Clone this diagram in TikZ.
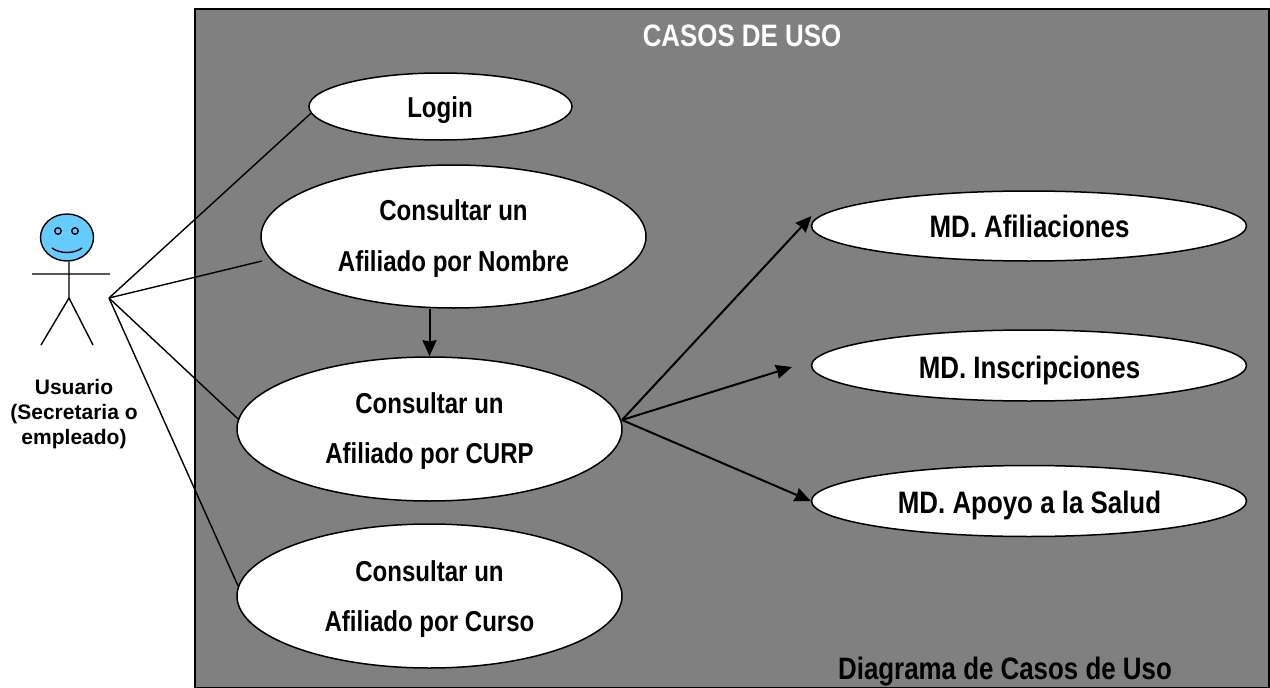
\documentclass[tikz,border=0pt]{standalone}
\usepackage{fontspec}
\setmainfont{Liberation Sans}
\newfontfamily\nbf[FakeStretch=0.835]{Liberation Sans}
\usetikzlibrary{shapes.geometric,arrows.meta}
\definecolor{pgray}{RGB}{128,128,128}
\definecolor{headblue}{RGB}{102,204,255}
\tikzset{
 x=1pt,y=-1pt,
 uc/.style={ellipse,draw=black,line width=1.5pt,fill=white,inner sep=0pt},
 lbl/.style={font=\nbf\bfseries\fontsize{28.8}{28.8}\selectfont,inner sep=0pt,anchor=base},
 big/.style={font=\nbf\bfseries\fontsize{31}{31}\selectfont,inner sep=0pt,anchor=base},
 assoc/.style={draw=black,line width=1.4pt},
 dep/.style={draw=black,line width=2pt,-{Stealth[length=16pt,width=14pt,inset=1pt]}},
 body/.style={draw=black,line width=1.4pt},
}
\begin{document}
\begin{tikzpicture}
\useasboundingbox (0,0) rectangle (1270,688);
\node[draw=black,line width=1.5pt,fill=pgray,minimum width=1074pt,minimum height=678.5pt,inner sep=0pt,anchor=north west] (frame) at (194,8) {};
\node[big,text=white] (title) at (742,46) {CASOS DE USO};
\node[big] (foot) at (1005,679) {Diagrama de Casos de Uso};
% use cases
\node[uc,minimum width=263pt,minimum height=67pt] (login) at (440.5,106.5) {};
\node[uc,minimum width=385pt,minimum height=143pt] (nombre) at (453.5,236.5) {};
\node[uc,minimum width=385pt,minimum height=144pt] (curp) at (429.5,429) {};
\node[uc,minimum width=385pt,minimum height=144pt] (curso) at (429.5,596) {};
\node[uc,minimum width=435pt,minimum height=70pt] (afil) at (1029,226) {};
\node[uc,minimum width=435pt,minimum height=71pt] (insc) at (1029,365.5) {};
\node[uc,minimum width=435pt,minimum height=71pt] (salud) at (1029,501) {};
\node[lbl] (t1) at (440,117) {Login};
\node[lbl] (t2a) at (453.5,220) {Consultar un};
\node[lbl] (t2b) at (453.5,271) {Afiliado por Nombre};
\node[lbl] (t3a) at (429.5,413) {Consultar un};
\node[lbl] (t3b) at (429.5,463) {Afiliado por CURP};
\node[lbl] (t4a) at (429.5,581) {Consultar un};
\node[lbl] (t4b) at (429.5,631) {Afiliado por Curso};
\node[big] (t5) at (1029.5,237) {MD. Afiliaciones};
\node[big] (t6) at (1029.5,378) {MD. Inscripciones};
\node[big] (t7) at (1029.5,513) {MD. Apoyo a la Salud};
% actor
\node[ellipse,draw=black,line width=1.4pt,fill=headblue,minimum width=53pt,minimum height=47pt,inner sep=0pt] (head) at (67,237.5) {};
\node[circle,draw=black,line width=1.4pt,fill=headblue,minimum size=6.5pt,inner sep=0pt] (eyeL) at (58,231) {};
\node[circle,draw=black,line width=1.4pt,fill=headblue,minimum size=6.5pt,inner sep=0pt] (eyeR) at (75,231) {};
\draw[body] (52,248) .. controls (60,254) and (74,254) .. (82,248);
\coordinate (hip) at (69,298);
\coordinate (armL) at (32,274);
\coordinate (armR) at (110,274);
\coordinate (footL) at (41,345);
\coordinate (footR) at (93,345);
\draw[body] (head.south -| hip) -- (hip) (armL) -- (armR) (footL) -- (hip) -- (footR);
\node[font=\bfseries\fontsize{21}{25}\selectfont,align=center,inner sep=0pt] (actor) at (74,414) {Usuario\\(Secretaria o\\empleado)};
% associations
\coordinate (hub) at (109,298);
\coordinate (nombreEnd) at (262,261);
\draw[assoc] (hub) -- (login.183);
\draw[assoc] (hub) -- (nombreEnd);
\draw[assoc] (hub) -- (curp.177.3);
\draw[assoc] (hub) -- (curso.177.9);
% dependencies
\draw[dep] (curp.north |- nombre.south) -- (curp.north);
\coordinate (hubR) at (622,420);
\coordinate (afilEnd) at (811.5,216);
\coordinate (inscEnd) at (792,367);
\draw[dep] (hubR) -- (afilEnd);
\draw[dep] (hubR) -- (inscEnd);
\draw[dep] (hubR) -- (salud.west);
\end{tikzpicture}
\end{document}
